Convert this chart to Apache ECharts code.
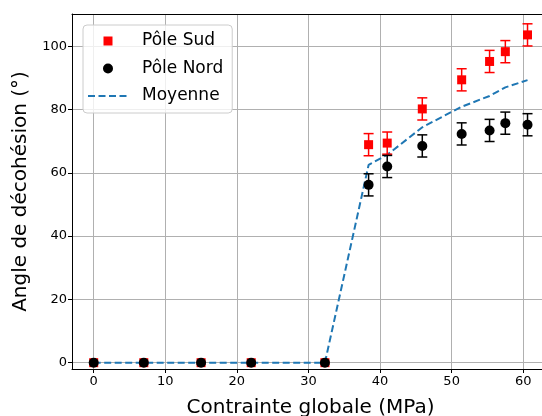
<!DOCTYPE html>
<html>
<head>
<meta charset="utf-8">
<title>Angle de décohésion</title>
<script src="https://cdn.jsdelivr.net/npm/echarts@6/dist/echarts.min.js"></script>
<style>
  html, body { margin: 0; padding: 0; background: #fff; }
  #chart { width: 542px; height: 416px; }
</style>
</head>
<body>
<div id="chart"></div>
<script>
// valeurs
var contrainte = [0, 7, 15, 22, 32.3, 38.4, 41.0, 45.9, 51.4, 55.3, 57.5, 60.6];
var poleSud    = [0, 0, 0, 0, 0, 68.9, 69.4, 80.2, 89.4, 95.2, 98.3, 103.6];
var errSud     = [0, 0, 0, 0, 0, 3.5, 3.5, 3.5, 3.5, 3.5, 3.5, 3.5];
var poleNord   = [0, 0, 0, 0, 0, 56.2, 62.0, 68.5, 72.3, 73.4, 75.7, 75.2];
var errNord    = [0, 0, 0, 0, 0, 3.5, 3.5, 3.5, 3.5, 3.5, 3.5, 3.5];
var moyenne    = [0, 0, 0, 0, 0, 62.5, 65.7, 74.4, 80.9, 84.3, 87.0, 89.3];

var font = 'DejaVu Sans';
// icones de legende : boite 40x10, points extremes pour garder la taille
var box = 'M0,0L0,0M40,10L40,10';
var iconCarre = 'path://' + box + 'M15.5,0.5h9v9h-9z';
var iconRond = 'path://' + box + 'M15,5a5,5 0 1,0 10,0a5,5 0 1,0 -10,0z';
var iconTirets = 'path://' + box + 'M0,4h7v2h-7zM10.5,4h7v2h-7zM21,4h7v2h-7zM31.5,4h7v2h-7z';

function pts(ys) {
    return contrainte.map(function (x, i) { return [x, ys[i]]; });
}
function bars(ys, es) {
    return contrainte.map(function (x, i) { return [x, ys[i] - es[i], ys[i] + es[i]]; });
}
function errRender(color) {
    return function (params, api) {
        if (api.value(2) - api.value(1) <= 0) return null;
        var lo = api.coord([api.value(0), api.value(1)]);
        var hi = api.coord([api.value(0), api.value(2)]);
        var w = 5;
        var st = { stroke: color, lineWidth: 1.5 };
        return {
            type: 'group',
            children: [
                { type: 'line', shape: { x1: lo[0], y1: lo[1], x2: hi[0], y2: hi[1] }, style: st },
                { type: 'line', shape: { x1: lo[0] - w, y1: lo[1], x2: lo[0] + w, y2: lo[1] }, style: st },
                { type: 'line', shape: { x1: hi[0] - w, y1: hi[1], x2: hi[0] + w, y2: hi[1] }, style: st }
            ]
        };
    };
}

var chart = echarts.init(document.getElementById('chart'));
chart.setOption({
    animation: false,
    backgroundColor: '#fff',
    grid: { left: 72, right: -7, top: 14, bottom: 47, outerBoundsMode: 'none', containLabel: false },
    legend: {
        orient: 'vertical',
        left: 83, top: 25,
        itemWidth: 40, itemHeight: 10, itemGap: 7.5,
        padding: [6, 9, 7, 5],
        backgroundColor: 'rgba(255,255,255,0.8)',
        borderColor: '#cccccc', borderWidth: 1, borderRadius: 4,
        textStyle: { fontFamily: font, fontSize: 17, color: '#000', lineHeight: 20, padding: [0, 0, 0, 9] },
        data: [
            { name: 'Pôle Sud', icon: iconCarre, itemStyle: { color: '#ff0000' } },
            { name: 'Pôle Nord', icon: iconRond, itemStyle: { color: '#000000' } },
            { name: 'Moyenne', icon: iconTirets, itemStyle: { color: '#1f77b4' } }
        ]
    },
    xAxis: [{
        type: 'value', min: -3.03, max: 63.6,
        name: 'Contrainte globale (MPa)', nameLocation: 'middle', nameGap: 29,
        nameTextStyle: { fontFamily: font, fontSize: 20, color: '#000' },
        axisLine: { onZero: false, lineStyle: { color: '#000', width: 1 } },
        axisTick: { show: true, length: 4, lineStyle: { color: '#000' } },
        axisLabel: { fontFamily: font, fontSize: 13, color: '#000', margin: 6, showMinLabel: false, showMaxLabel: false },
        splitLine: { show: true, lineStyle: { color: '#b0b0b0', width: 1 } }
    }, {
        type: 'value', position: 'top', min: -3.03, max: 63.6,
        axisLine: { show: true, onZero: false, lineStyle: { color: '#000', width: 1 } },
        axisTick: { show: false }, axisLabel: { show: false }, splitLine: { show: false }
    }],
    yAxis: {
        type: 'value', min: -2, max: 110.2,
        name: 'Angle de décohésion (°)', nameLocation: 'middle', nameGap: 33,
        nameTextStyle: { fontFamily: font, fontSize: 20, color: '#000' },
        axisLine: { show: true, onZero: false, lineStyle: { color: '#000', width: 1 } },
        axisTick: { show: true, length: 4, lineStyle: { color: '#000' } },
        axisLabel: { fontFamily: font, fontSize: 13, color: '#000', margin: 5, showMinLabel: false, showMaxLabel: false },
        splitLine: { show: true, lineStyle: { color: '#b0b0b0', width: 1 } }
    },
    series: [
        {
            name: 'Moyenne', type: 'line', data: pts(moyenne), z: 1,
            symbol: 'none', showSymbol: false,
            lineStyle: { color: '#1f77b4', width: 2, type: [7, 3.5] },
            itemStyle: { color: '#1f77b4' }
        },
        {
            name: 'Pôle Sud', type: 'custom', data: bars(poleSud, errSud), z: 2,
            renderItem: errRender('#ff0000'), encode: { x: 0, y: [1, 2] }, silent: true,
            itemStyle: { color: '#ff0000' }
        },
        {
            name: 'Pôle Sud', type: 'scatter', data: pts(poleSud), z: 3,
            symbol: 'rect', symbolSize: 9, itemStyle: { color: '#ff0000', opacity: 1 }
        },
        {
            name: 'Pôle Nord', type: 'custom', data: bars(poleNord, errNord), z: 4,
            renderItem: errRender('#000000'), encode: { x: 0, y: [1, 2] }, silent: true,
            itemStyle: { color: '#000000' }
        },
        {
            name: 'Pôle Nord', type: 'scatter', data: pts(poleNord), z: 5,
            symbol: 'circle', symbolSize: 10, itemStyle: { color: '#000000', opacity: 1 }
        }
    ]
});
</script>
</body>
</html>
